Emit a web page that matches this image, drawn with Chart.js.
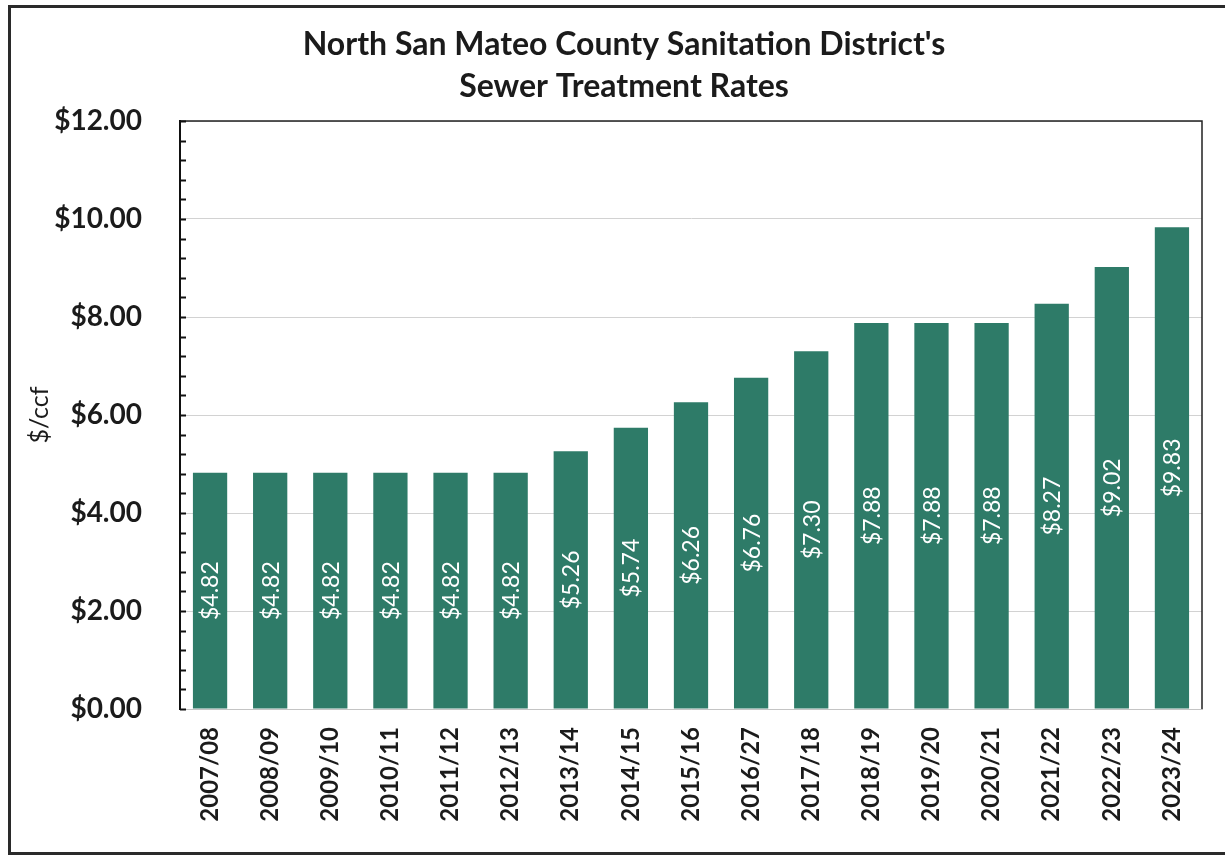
<!DOCTYPE html>
<html>
<head>
<meta charset="utf-8">
<script src="https://cdn.jsdelivr.net/npm/chart.js@4.4.1/dist/chart.umd.min.js"></script>
<style>
  html, body { margin: 0; padding: 0; background: #fff; overflow: hidden; }
  body { width: 1225px; height: 856px; position: relative; }
  .frame { position: absolute; left: 8px; top: 5px; width: 1240px; height: 844px; border: 3px solid #2a2a2a; }
  #rates { position: absolute; left: 0; top: 0; }
</style>
</head>
<body>
<div class="frame"></div>
<canvas id="rates" width="1225" height="856"></canvas>
<script>
// fiscal years + rate per ccf
const years = ["2007/08","2008/09","2009/10","2010/11","2011/12","2012/13","2013/14","2014/15",
  "2015/16","2016/27","2017/18","2018/19","2019/20","2020/21","2021/22","2022/23","2023/24"];
const rates = [4.82,4.82,4.82,4.82,4.82,4.82,5.26,5.74,6.26,6.76,7.30,7.88,7.88,7.88,8.27,9.02,9.83];
const titleLines = ["North San Mateo County Sanitation District's", "Sewer Treatment Rates"];
const yTitle = "$/ccf";

const FONT = "Lato, 'Open Sans', sans-serif";
const ink = "#1b1b1b";
const money = v => "$" + Number(v).toFixed(2);

// white vertical value labels in the middle of each bar
const barLabels = {
  id: "barLabels",
  afterDatasetsDraw(chart){
    const ctx = chart.ctx;
    const meta = chart.getDatasetMeta(0);
    ctx.save();
    ctx.fillStyle = "#fff";
    ctx.font = "23px " + FONT;
    ctx.textAlign = "center";
    ctx.textBaseline = "middle";
    meta.data.forEach((bar, i) => {
      const { x, y, base } = bar.getProps(["x","y","base"], true);
      ctx.save();
      ctx.translate(x, (y + base) / 2);
      ctx.rotate(-Math.PI / 2);
      ctx.fillText(money(rates[i]), 0, 1);
      ctx.restore();
    });
    ctx.restore();
  }
};

// plot frame (top/right), inside minor ticks on the value axis, and the title
const plotFrame = {
  id: "plotFrame",
  afterDraw(chart){
    const { ctx, chartArea: a } = chart;
    const y = chart.scales.y;
    ctx.save();
    ctx.strokeStyle = "#222";
    ctx.lineWidth = 1.5;
    ctx.beginPath();
    ctx.moveTo(a.left, a.top); ctx.lineTo(a.right, a.top); ctx.lineTo(a.right, a.bottom);
    ctx.stroke();
    ctx.lineWidth = 2;
    ctx.strokeStyle = "#111";
    for (let k = 0; k <= 30; k++){
      const py = Math.round(y.getPixelForValue(k * 0.4)) + 0.5;
      ctx.beginPath();
      ctx.moveTo(a.left, py); ctx.lineTo(a.left + 6, py);
      ctx.stroke();
    }
    // title sits a little right of the canvas centre, as in the source
    ctx.fillStyle = ink;
    ctx.font = "bold 32px " + FONT;
    ctx.textAlign = "center";
    ctx.textBaseline = "middle";
    titleLines.forEach((t, i) => ctx.fillText(t, 624, 45 + i * 42));
    ctx.restore();
  }
};

new Chart(document.getElementById("rates"), {
  type: "bar",
  data: {
    labels: years,
    datasets: [{
      data: rates,
      backgroundColor: "#2e7b68",
      barPercentage: 0.57,
      categoryPercentage: 1.0
    }]
  },
  options: {
    responsive: false,
    animation: false,
    layout: { padding: { left: 10, right: 23, top: 121, bottom: 20 } },
    plugins: {
      legend: { display: false },
      tooltip: { enabled: false },
      title: { display: false }
    },
    scales: {
      x: {
        grid: { drawOnChartArea: false, drawTicks: false },
        border: { color: "#c4c4c4", width: 1 },
        ticks: {
          minRotation: 90, maxRotation: 90, autoSkip: false,
          padding: 18, color: ink,
          font: { family: FONT, weight: "bold", size: 24 }
        },
        afterFit(s){ s.height = 127; }
      },
      y: {
        min: 0, max: 12,
        ticks: {
          stepSize: 2, padding: 38, color: ink,
          font: { family: FONT, weight: "bold", size: 28 },
          callback: v => money(v)
        },
        grid: { color: "#d2d2d2", lineWidth: 1, drawTicks: false },
        border: { color: "#111", width: 2 },
        title: {
          display: true, text: yTitle, color: ink,
          font: { family: FONT, size: 25 },
          padding: { top: 15, bottom: 0 }
        },
        afterFit(s){ s.width = 170; }
      }
    }
  },
  plugins: [barLabels, plotFrame]
});
</script>
</body>
</html>
